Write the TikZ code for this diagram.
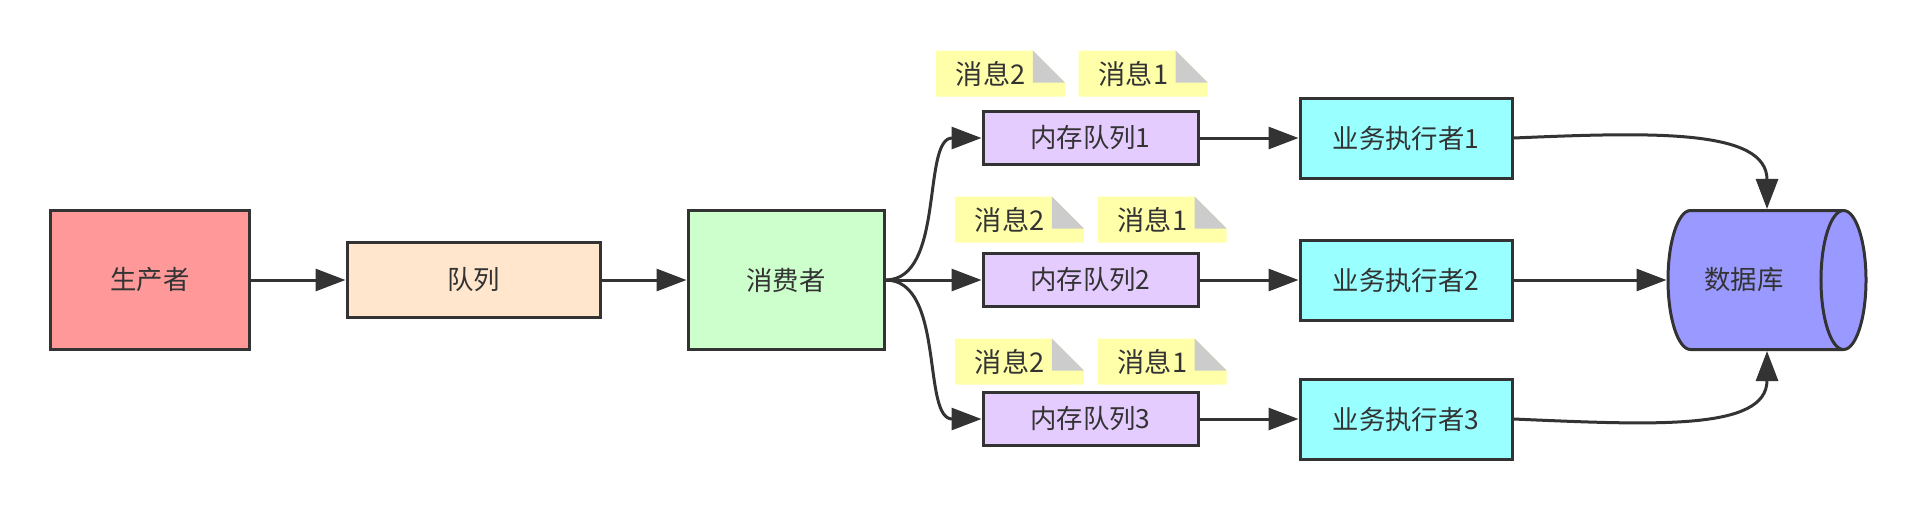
\documentclass[tikz,border=0pt]{standalone}
\usepackage{fontspec}
\setmainfont{Noto Sans CJK SC}
\usepackage{tikz}
\usetikzlibrary{arrows.meta, positioning, shapes.geometric}
\definecolor{linegray}{RGB}{51, 51, 51}
\definecolor{prodred}{RGB}{255, 153, 153}
\definecolor{queueorange}{RGB}{255, 230, 204}
\definecolor{consgreen}{RGB}{204, 255, 204}
\definecolor{memqpurple}{RGB}{229, 204, 255}
\definecolor{workcyan}{RGB}{153, 255, 255}
\definecolor{dbblue}{RGB}{153, 153, 255}
\definecolor{noteyellow}{RGB}{255, 255, 170}
\definecolor{notefold}{RGB}{204, 204, 204}

\begin{document}
\begin{tikzpicture}[
    font=\fontsize{13.2pt}{16pt}\selectfont,
    text=linegray,
    box/.style = {rectangle, draw=linegray, line width=1.5pt, align=center, inner sep=0pt},
    arrow/.style = {-{Triangle[length=15pt, width=11pt]}, draw=linegray, line width=1.5pt},
    note/.style = {rectangle, inner ysep=0pt, inner xsep=10pt, text width=44.5pt,
                   align=left, minimum height=23pt, font=\fontsize{13.6pt}{16pt}\selectfont,
                   path picture={
                     \fill[noteyellow] (path picture bounding box.north west)
                       -- ([xshift=-16pt]path picture bounding box.north east)
                       -- ([yshift=-16pt]path picture bounding box.north east)
                       -- (path picture bounding box.south east)
                       -- (path picture bounding box.south west) -- cycle;
                     \fill[notefold] ([xshift=-16pt]path picture bounding box.north east)
                       -- ([xshift=-16pt, yshift=-16pt]path picture bounding box.north east)
                       -- ([yshift=-16pt]path picture bounding box.north east) -- cycle;
                   }}
  ]
    \useasboundingbox (-75pt, -115.5pt) rectangle (883pt, 140pt);

    % main chain
    \node[box, fill=prodred, minimum width=99pt, minimum height=69.5pt] (prod) at (0,0) {生产者};
    \node[box, fill=queueorange, minimum width=126.5pt, minimum height=37.5pt, right=47.5pt of prod] (queue) {队列};
    \node[box, fill=consgreen, minimum width=98pt, minimum height=69.5pt, right=42.5pt of queue] (cons) {消费者};

    % memory queues
    \node[box, fill=memqpurple, minimum width=107.5pt, minimum height=26.5pt, right=48pt of cons] (mq2) {内存队列2};
    \node[box, fill=memqpurple, minimum width=107.5pt, minimum height=26.5pt, above=43pt of mq2] (mq1) {内存队列1};
    \node[box, fill=memqpurple, minimum width=107.5pt, minimum height=26.5pt, below=41.5pt of mq2] (mq3) {内存队列3};

    % workers
    \node[box, fill=workcyan, minimum width=106pt, minimum height=40pt, right=49.5pt of mq1] (work1) {业务执行者1};
    \node[box, fill=workcyan, minimum width=106pt, minimum height=40pt, right=49.5pt of mq2] (work2) {业务执行者2};
    \node[box, fill=workcyan, minimum width=106pt, minimum height=40pt, right=49.5pt of mq3] (work3) {业务执行者3};

    \node[cylinder, shape aspect=0.33, draw=linegray, line width=1.5pt, fill=dbblue,
          minimum width=69.5pt, minimum height=99pt, inner xsep=0pt, inner ysep=28pt,
          right=76.5pt of work2] (db) {数据库};

    % messages waiting in each queue
    \node[note, above right=6.5pt and -23pt of mq1.north west] (msg1b) {消息2};
    \node[note, right=6.5pt of msg1b] (msg1a) {消息1};
    \node[note, above right=4.5pt and -13.5pt of mq2.north west] (msg2b) {消息2};
    \node[note, right=6.5pt of msg2b] (msg2a) {消息1};
    \node[note, above right=3pt and -13.5pt of mq3.north west] (msg3b) {消息2};
    \node[note, right=6.5pt of msg3b] (msg3a) {消息1};

    \draw[arrow] (prod) -- (queue);
    \draw[arrow] (queue) -- (cons);
    \draw[arrow] (cons.east) .. controls +(30pt,0) and +(-30pt,0) .. (mq1.west);
    \draw[arrow] (cons) -- (mq2);
    \draw[arrow] (cons.east) .. controls +(30pt,0) and +(-30pt,0) .. (mq3.west);
    \draw[arrow] (mq1) -- (work1);
    \draw[arrow] (mq2) -- (work2);
    \draw[arrow] (mq3) -- (work3);
    \draw[arrow] (work1.east) .. controls +(70pt,3pt) and +(0,40pt) .. (db.shape center |- db.north);
    \draw[arrow] (work2) -- (db);
    \draw[arrow] (work3.east) .. controls +(70pt,-3pt) and +(0,-40pt) .. (db.shape center |- db.south);
  \end{tikzpicture}
\end{document}
